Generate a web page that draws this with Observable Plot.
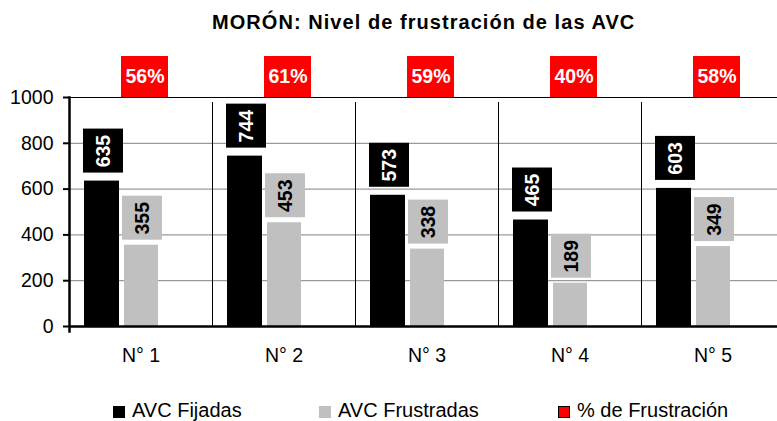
<!DOCTYPE html>
<html>
<head>
<meta charset="utf-8">
<script src="https://cdn.jsdelivr.net/npm/d3@7"></script>
<script src="https://cdn.jsdelivr.net/npm/@observablehq/plot@0.6"></script>
<style>
  html, body { margin: 0; padding: 0; background: #fff; }
  body { font-family: "Liberation Sans", Arial, sans-serif; width: 777px; height: 421px; overflow: hidden; }
  #title { position: relative; height: 40px; }
  #title span { position: absolute; left: 212px; top: 12px; font-size: 20px; line-height: 20px; font-weight: bold; letter-spacing: 1.05px; color: #000; white-space: nowrap; }
  #chart svg { display: block; overflow: hidden; }
  #legend { position: relative; height: 36px; }
  .sw { position: absolute; top: 21px; width: 12px; height: 12px; box-sizing: border-box; }
  .lab { position: absolute; top: 15px; font-size: 20px; line-height: 20px; white-space: nowrap; color: #000; }
</style>
</head>
<body>
<div id="title"><span>MORÓN: Nivel de frustración de las AVC</span></div>
<div id="chart"></div>
<div id="legend"></div>
<script>
const categories = ["N° 1", "N° 2", "N° 3", "N° 4", "N° 5"];
const avcFijadas = [635, 744, 573, 465, 603];
const avcFrustradas = [355, 453, 338, 189, 349];
const pctFrustracion = [56, 61, 59, 40, 58];
const yTicks = [0, 200, 400, 600, 800, 1000];
const seriesNames = ["AVC Fijadas", "AVC Frustradas", "% de Frustración"];
const seriesColors = ["#000000", "#c0c0c0", "#ff0000"];

const rows = categories.map((c, i) => ({
  cat: c, fij: avcFijadas[i], fru: avcFrustradas[i], pct: pctFrustracion[i]
}));

const W = 777, H = 345;
const mL = 69, mR = -7, mT = 57, mB = 59;
const band = (W - mR - mL) / categories.length;
const half = band / 2;

const chart = Plot.plot({
  width: W, height: H,
  marginLeft: mL, marginRight: mR, marginTop: mT, marginBottom: mB,
  style: { fontFamily: "Liberation Sans, Arial, sans-serif", fontSize: "19px", background: "#fff", overflow: "hidden" },
  x: { domain: categories, padding: 0, axis: null },
  y: { domain: [0, 1000], axis: null },
  marks: [
    Plot.ruleY([200, 400, 600, 800], { stroke: "#808080", strokeWidth: 1 }),
    Plot.ruleY([1000], { stroke: "#000", strokeWidth: 1 }),
    Plot.ruleX(categories, { x: d => d, y1: 0, y2: 1000, dx: -half, stroke: "#000", strokeWidth: 1, insetBottom: -5 }),
    // bars
    Plot.barY(rows, { x: "cat", y: "fij", fill: seriesColors[0], insetLeft: 15, insetRight: band - 50 }),
    Plot.barY(rows, { x: "cat", y: "fru", fill: seriesColors[1], insetLeft: 55, insetRight: band - 89 }),
    // label boxes
    Plot.barY(rows, { x: "cat", y1: "fij", y2: "fij", fill: "#000", insetLeft: 14, insetRight: band - 54, insetTop: -52, insetBottom: 8 }),
    Plot.text(rows, { x: "cat", y: "fij", text: d => String(d.fij), rotate: -90, fill: "#fff", fontWeight: "bold", fontSize: 19.5, dx: 34 - half, dy: -30 }),
    Plot.barY(rows, { x: "cat", y1: "fru", y2: "fru", fill: "#c0c0c0", insetLeft: 53, insetRight: band - 93, insetTop: -49, insetBottom: 5 }),
    Plot.text(rows, { x: "cat", y: "fru", text: d => String(d.fru), rotate: -90, fill: "#000", fontWeight: "bold", fontSize: 19.5, dx: 73 - half, dy: -27 }),
    Plot.barY(rows, { x: "cat", y1: () => 1000, y2: () => 1000, fill: "#ff0000", insetLeft: 52, insetRight: band - 99, insetTop: -41, insetBottom: 0 }),
    Plot.text(rows, { x: "cat", y: () => 1000, text: d => d.pct + "%", fill: "#fff", fontWeight: "bold", fontSize: 19.5, dx: 75.5 - half, dy: -20.5 }),
    // axes
    Plot.axisY({ ticks: yTicks, tickSize: 6, tickPadding: 10, strokeWidth: 2, fontSize: 19.5, label: null, tickFormat: d => String(d) }),
    Plot.axisX({ tickSize: 0, tickPadding: 22, fontSize: 19.5, label: null }),
    Plot.ruleY([0], { stroke: "#000", strokeWidth: 2.5 }),
    Plot.frame({ anchor: "left", stroke: "#000", strokeWidth: 2.5, insetBottom: -5 })
  ]
});
document.getElementById("chart").appendChild(chart);

const legendPos = [
  { sw: 113, lab: 132 },
  { sw: 319, lab: 338 },
  { sw: 558, lab: 577 }
];
const legend = document.getElementById("legend");
seriesNames.forEach((name, i) => {
  const sw = document.createElement("div");
  sw.className = "sw";
  sw.style.left = legendPos[i].sw + "px";
  sw.style.background = seriesColors[i];
  if (i === 2) sw.style.border = "1px solid #000";
  const lab = document.createElement("div");
  lab.className = "lab";
  lab.style.left = legendPos[i].lab + "px";
  lab.textContent = name;
  legend.appendChild(sw);
  legend.appendChild(lab);
});
</script>
</body>
</html>
